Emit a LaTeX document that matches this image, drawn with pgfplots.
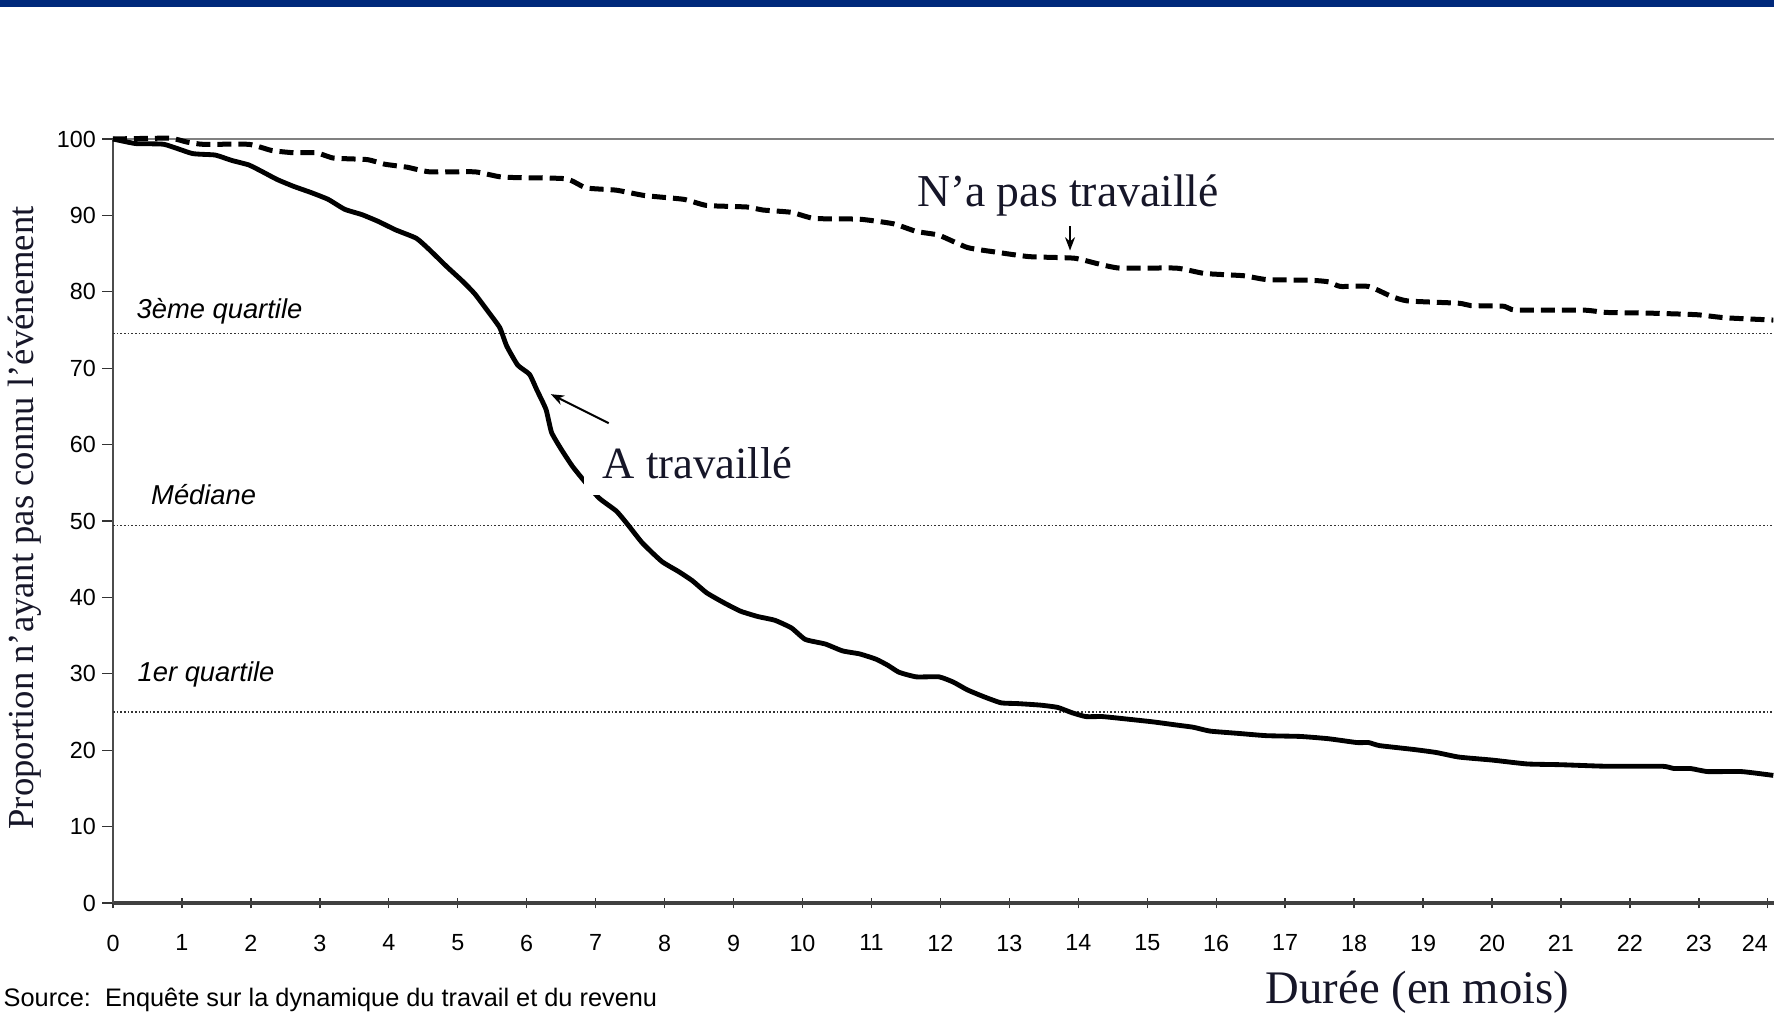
\documentclass[border=0pt]{standalone}
\usepackage{fontspec}
\usepackage{pgfplots}
\pgfplotsset{compat=1.18}
\usetikzlibrary{arrows.meta}
\setmainfont{Liberation Serif}
\newfontfamily\arial{Liberation Sans}
\definecolor{navybar}{RGB}{0,41,123}
\definecolor{inkblue}{RGB}{22,22,40}
\begin{document}
\begin{tikzpicture}
\useasboundingbox (-33.9pt,-33.6pt) rectangle (498.3pt,270.9pt);
\fill[navybar] (-33.9pt,268.8pt) rectangle (498.3pt,270.9pt);
\begin{axis}[
  at={(0,0)}, anchor=south west,
  scale only axis, width=498.3pt, height=229.2pt,
  xmin=0, xmax=24.09, ymin=0, ymax=100,
  separate axis lines,
  axis x line=bottom, axis y line=left,
  axis line style={-},
  x axis line style={draw=black!75, line width=1pt},
  y axis line style={draw=black!70, line width=0.6pt},
  xtick={0,1,...,24}, ytick={0,10,...,100},
  xticklabels={0,1,2,3,4,5,6,7,8,9,10,11,12,13,14,15,16,17,18,19,20,21,22,23,{\makebox[0pt][r]{24}}},
  xtick align=center, ytick align=outside,
  major tick length=3.2pt,
  tick style={black!80, line width=0.4pt},
  /pgf/number format/assume math mode=true,
  tick label style={font=\arial\fontsize{7}{8}\selectfont},
  xticklabel style={yshift=-4.4pt},
  yticklabel style={xshift=1.6pt},
  clip=false,
]
% reference lines
\addplot[black!80, line width=0.4pt, dash pattern=on 0.5pt off 0.6pt] coordinates {(0,74.5) (24.09,74.5)};
\addplot[black!80, line width=0.4pt, dash pattern=on 0.5pt off 0.6pt] coordinates {(0,49.4) (24.09,49.4)};
\addplot[black!80, line width=0.4pt, dash pattern=on 0.5pt off 0.6pt] coordinates {(0,25.0) (24.09,25.0)};
\addplot[black!50, line width=0.7pt] coordinates {(0,100) (24.09,100)};
% A travaille
\addplot[black, line width=1.45pt, line join=round, smooth, tension=0.3] coordinates {
(0,100) (0.33,99.4) (0.74,99.3) (1.15,98.1) (1.48,97.9) (1.72,97.2) (1.97,96.6)
(2.17,95.7) (2.38,94.7) (2.62,93.8) (2.87,93.0) (3.12,92.1) (3.36,90.8) (3.61,90.1)
(3.85,89.2) (4.10,88.1) (4.40,87.0) (4.59,85.5) (4.84,83.3) (5.08,81.3) (5.25,79.7)
(5.45,77.3) (5.61,75.3) (5.71,72.9) (5.87,70.4) (6.04,69.2) (6.15,67.1) (6.28,64.6)
(6.36,61.6) (6.50,59.4) (6.66,57.2) (6.82,55.4) (7.05,53.0) (7.30,51.3) (7.46,49.6)
(7.68,47.1) (7.96,44.7) (8.20,43.4) (8.40,42.2) (8.61,40.6) (8.86,39.3) (9.10,38.2)
(9.35,37.5) (9.60,37.0) (9.84,36.0) (10.04,34.5) (10.33,33.9) (10.58,33.0) (10.83,32.6)
(11.07,31.9) (11.24,31.1) (11.40,30.2) (11.65,29.6) (11.98,29.6) (12.19,28.9) (12.39,27.9)
(12.63,27.0) (12.88,26.2) (13.12,26.1) (13.45,25.9) (13.70,25.6) (13.91,24.9) (14.11,24.4)
(14.35,24.4) (14.68,24.1) (15.09,23.7) (15.42,23.3) (15.67,23.0) (15.91,22.5) (16.32,22.2)
(16.73,21.9) (17.22,21.8) (17.63,21.5) (18.04,21.0) (18.21,21.0) (18.37,20.6) (18.86,20.1)
(19.19,19.7) (19.52,19.1) (20.01,18.7) (20.51,18.2) (21.00,18.1) (21.65,17.9) (22.47,17.9)
(22.64,17.6) (22.88,17.6) (23.13,17.2) (23.62,17.2) (24.08,16.7)};
% N'a pas travaille
\addplot[black, line width=1.5pt, dash pattern=on 4.2pt off 2.1pt, smooth, tension=0.3] coordinates {
(0,100) (0.82,100.1) (1.07,99.6) (1.31,99.3) (1.97,99.3) (2.30,98.5) (2.62,98.2) (2.95,98.2)
(3.20,97.5) (3.69,97.3) (3.94,96.7) (4.27,96.3) (4.59,95.7) (5.25,95.7) (5.66,95.0)
(6.56,94.8) (6.86,93.6) (7.30,93.3) (7.71,92.6) (8.28,92.1) (8.61,91.3) (9.19,91.1)
(9.43,90.7) (9.84,90.4) (10.17,89.6) (10.83,89.5) (11.32,88.9) (11.65,87.9) (11.98,87.4)
(12.39,85.8) (12.80,85.2) (13.29,84.6) (13.94,84.4) (14.27,83.7) (14.60,83.1) (15.42,83.1)
(15.83,82.4) (16.40,82.1) (16.73,81.6) (17.39,81.5) (17.63,81.3) (17.80,80.7) (18.21,80.7)
(18.54,79.4) (18.78,78.8) (19.52,78.5) (19.69,78.2) (20.18,78.1) (20.34,77.6) (21.33,77.6)
(21.65,77.3) (22.31,77.2) (22.97,77.0) (23.38,76.6) (24.08,76.3)};
% annotations
\node[fill=white, inner xsep=5.5pt, inner ysep=5pt, text=inkblue, font=\fontsize{13.4}{15}\selectfont] at (axis cs:8.48,57.6) {A travaillé};
\draw[-{Stealth[length=4pt,width=3pt]}, line width=0.6pt] (axis cs:7.19,62.8) -- (axis cs:6.35,66.6);
\node[text=inkblue, font=\fontsize{13.7}{15}\selectfont] at (axis cs:13.85,92.6) {N’a pas travaillé};
\draw[-{Stealth[length=4pt,width=3pt]}, line width=0.6pt] (axis cs:13.88,88.6) -- (axis cs:13.88,85.4);
\node[font=\arial\itshape\fontsize{8.2}{9}\selectfont] at (axis cs:1.545,77.5) {3ème quartile};
\node[font=\arial\itshape\fontsize{8.2}{9}\selectfont] at (axis cs:1.315,53.4) {Médiane};
\node[font=\arial\itshape\fontsize{8.2}{9}\selectfont] at (axis cs:1.35,29.9) {1er quartile};
\node[rotate=90, text=inkblue, font=\fontsize{11}{13}\selectfont] at (axis cs:-1.276,50.4) {Proportion n’ayant pas connu l’événement};
\node[text=inkblue, font=\fontsize{14}{16}\selectfont] at (axis cs:18.92,-11.65) {Durée (en mois)};
\node[anchor=west, inner sep=0pt, font=\arial\fontsize{7.6}{8}\selectfont] at (axis cs:-1.595,-12.7) {Source:\ \ Enquête sur la dynamique du travail et du revenu};
\end{axis}
\end{tikzpicture}
\end{document}
